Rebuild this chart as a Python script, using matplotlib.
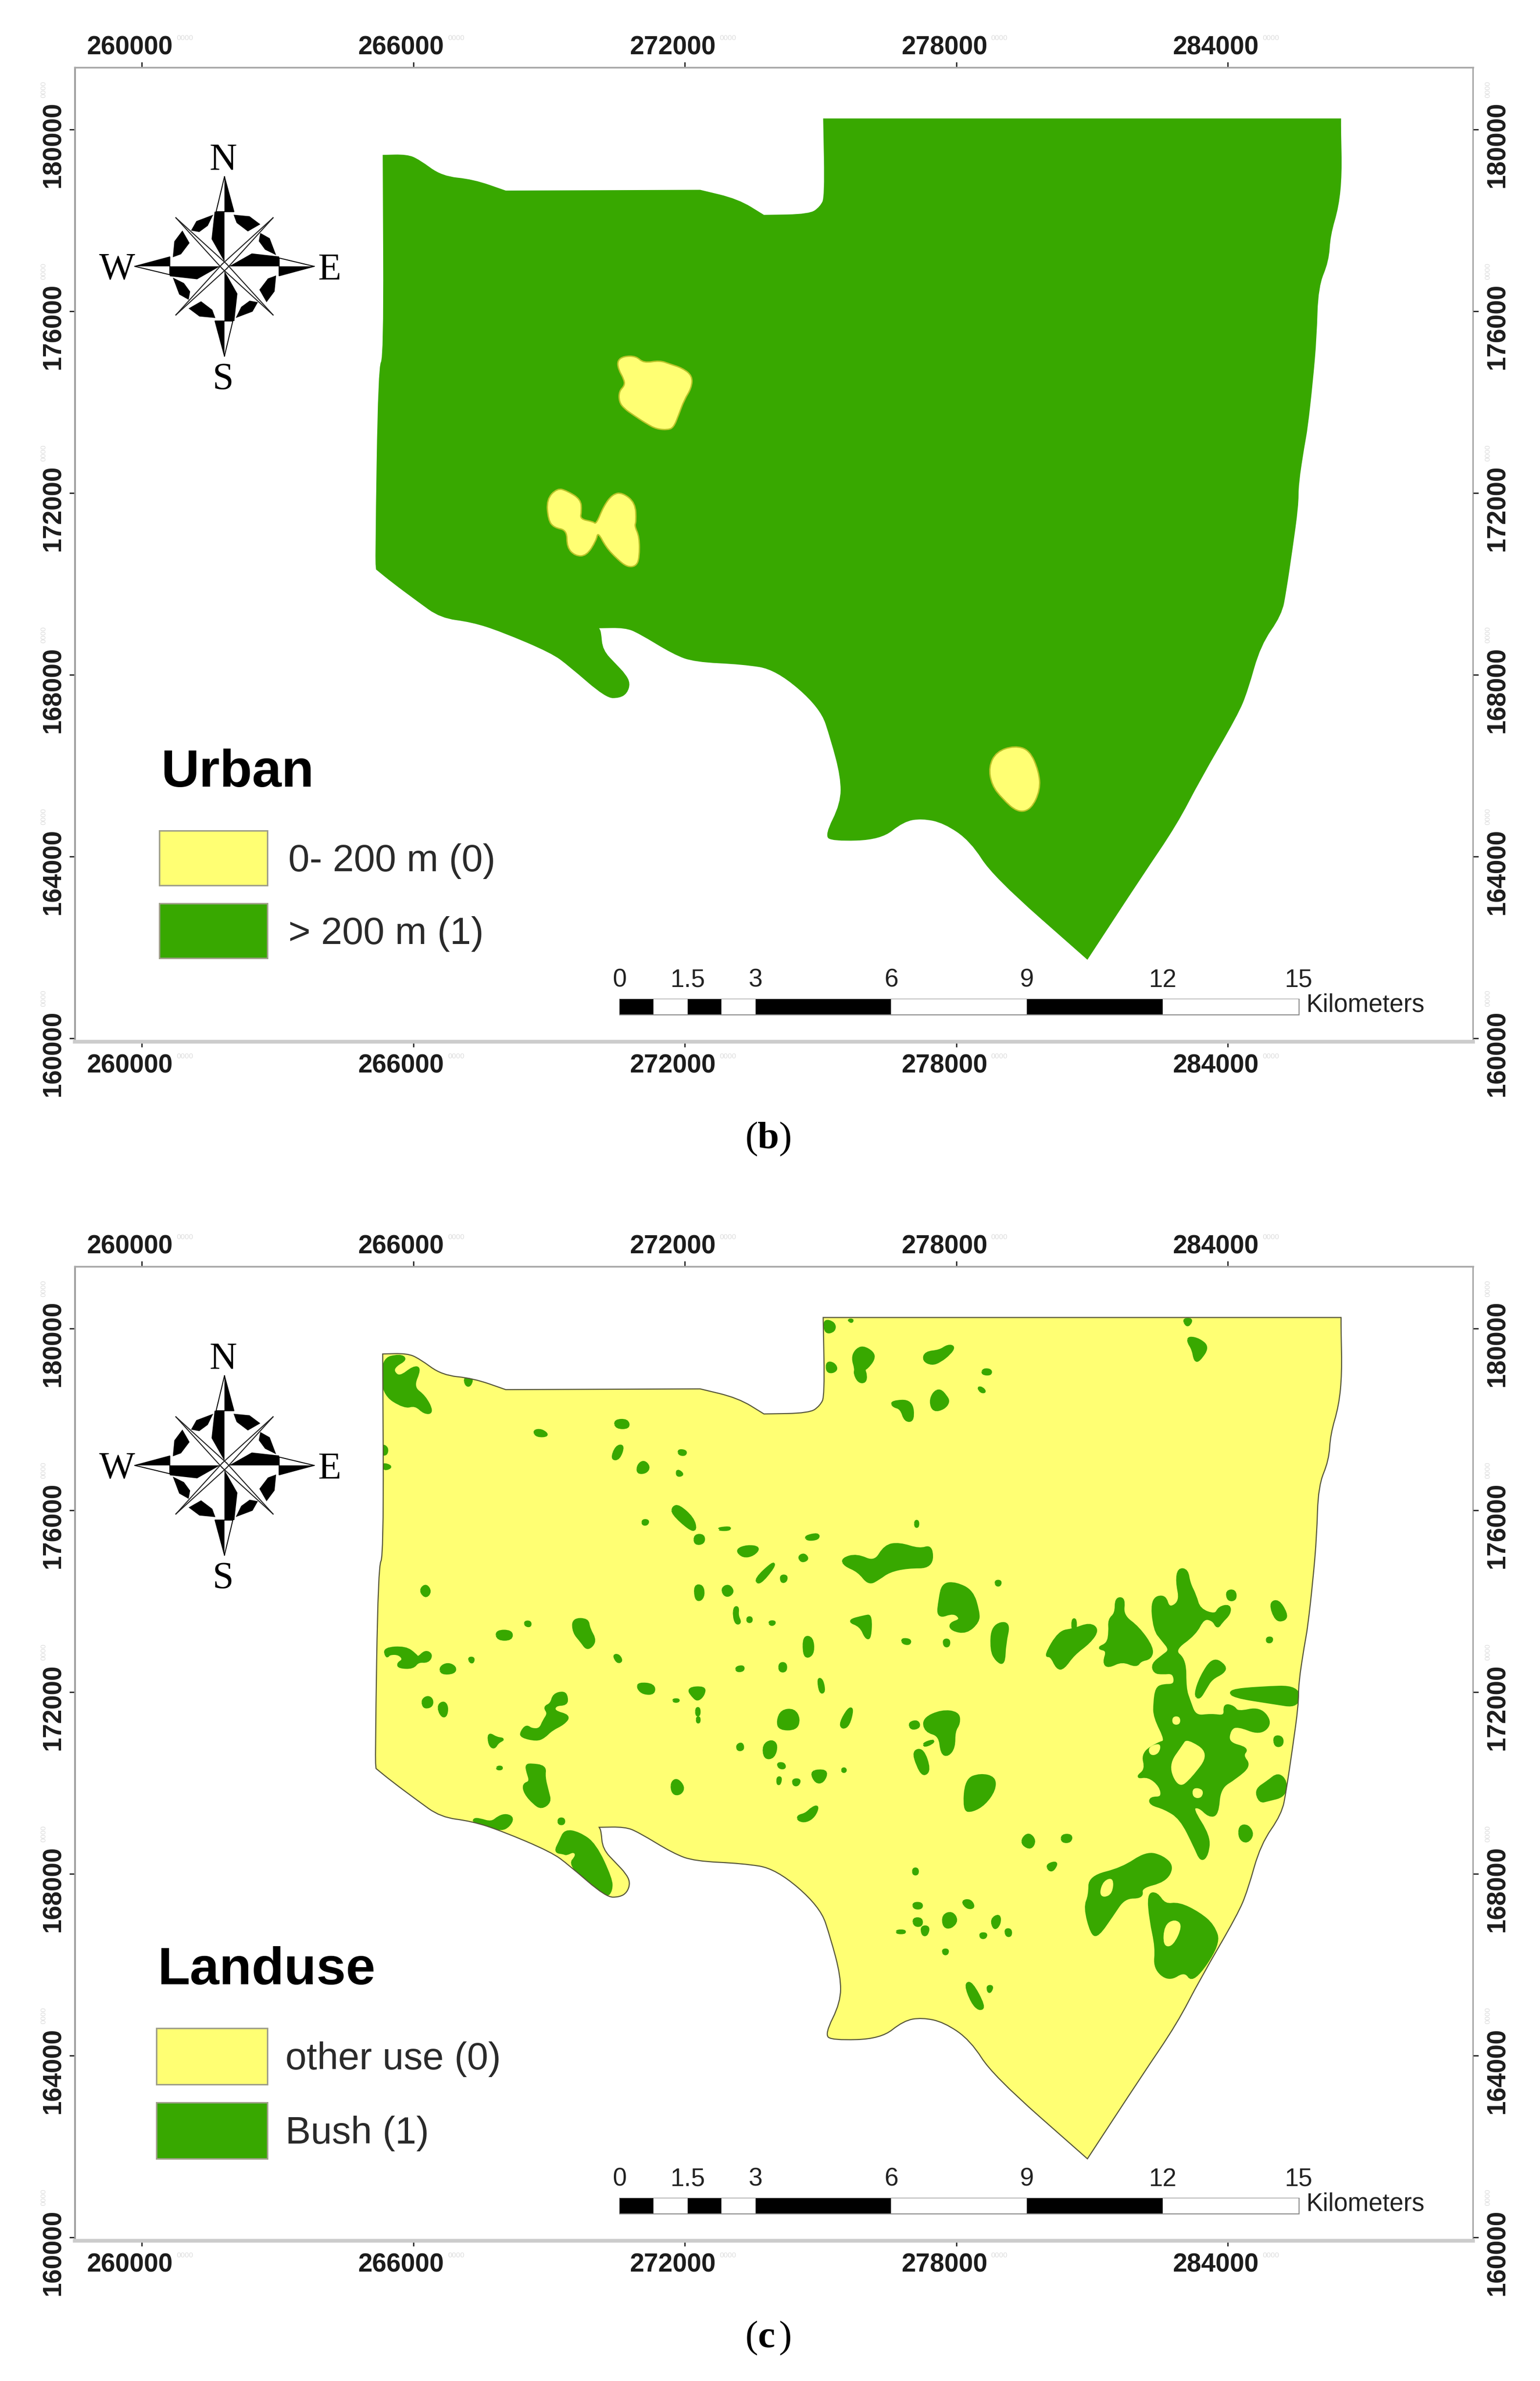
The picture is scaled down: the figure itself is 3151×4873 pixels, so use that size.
import numpy as np
import matplotlib
matplotlib.use('AGG')
import matplotlib.pyplot as plt
from matplotlib.patches import Rectangle, PathPatch
from matplotlib.path import Path

plt.rcParams['font.family'] = ['Liberation Sans', 'DejaVu Sans']

YELLOW = '#FFFF73'
GREEN = '#38A800'

#map grid shown on both panels
x_ticks = [260000, 266000, 272000, 278000, 284000]
y_ticks = [160000, 164000, 168000, 172000, 176000, 180000]
scale_km = [0, 1.5, 3, 6, 9, 12, 15]
scale_parts_km = [0, 0.75, 1.5, 2.25, 3, 6, 9, 12, 15]
scale_labels = ['0', '1.5', '3', '6', '9', '12', '15']

#digitising sheets: x0, y0, x scale, y scale (sheet units to page pixels)
SHEET_PAGE = (0, 0, 1 / 3.1075, 1 / 3.108)
SHEET_TOP = (1500, 2650, 1.206, 2.24)
SHEET_MID = (1500, 2950, 1.206, 1.206)
SHEET_LEFT = (720, 3300, 1.96, 1.96)
SHEET_NW = (700, 2600, 1.568, 1.568)
SHEET_URBAN = (1050, 650, 3.0, 2.85)

#study area boundary, a vertex given twice stays a sharp corner
boundary = [(252, 102), (252, 102), (268, 101.6), (276, 105), (291, 116), (311.5, 118), (333, 125.5), (333, 125.5),
            (461, 125), (461, 125), (486, 131), (503, 141.5), (503, 141.5), (533, 141), (540, 136), (543, 129.6),
            (542, 78), (542, 78), (883, 78), (883, 78), (883, 87), (883.6, 114.5),
            (881.6, 136), (876, 155), (875, 172), (868, 189), (867, 222), (864.5, 251), (861, 282.5), (859, 293),
            (855, 319), (855, 333), (851, 362), (847, 389), (844, 405), (830, 425), (821.6, 455), (815, 471),
            (790, 514), (775, 543), (752, 577), (716, 632), (716, 632), (653.6, 577), (639, 554), (621.5, 542),
            (607, 539), (595, 541), (580, 553), (548, 554), (543, 550), (553.5, 529), (553.5, 511.6), (547, 487),
            (540, 466), (511, 441), (489, 437.5), (457.4, 436), (443.5, 431), (420.5, 417), (411.5, 413.4),
            (394.5, 413.7), (394.5, 413.7), (395.8, 416), (396.8, 428), (405.8, 437.5), (412, 444), (415, 450),
            (413, 456.5), (408, 459.7), (399, 459.7), (374.5, 438.5), (363, 430), (330, 416), (310.6, 409.7),
            (290, 407), (274.4, 395.7), (258, 383.5), (247.6, 375), (247.6, 375), (247, 368), (249, 241.5),
            (252.6, 235.5)]

#urban buffer patches
urban_patches = [
    [(640, 250), (680, 225), (755, 225), (800, 265), (900, 250), (960, 270), (1040, 295), (1100, 340), (1095, 410),
     (1050, 480), (1015, 570), (985, 640), (950, 655), (880, 650), (820, 620), (740, 570), (680, 530), (650, 490),
     (650, 430), (685, 395), (680, 360), (645, 300)],
    [(205, 1060), (270, 995), (330, 1010), (415, 1060), (420, 1130), (410, 1175), (490, 1190), (510, 1205),
     (555, 1100), (610, 1030), (670, 1020), (750, 1080), (755, 1190), (745, 1215), (775, 1280), (775, 1400),
     (755, 1450), (700, 1455), (640, 1410), (570, 1340), (520, 1250), (510, 1300), (450, 1390), (380, 1390),
     (330, 1340), (330, 1240), (250, 1225), (215, 1180)],
]
urban_south = [(651, 505), (656, 495), (668, 491), (678, 494), (684, 508), (685, 520), (679, 533), (670, 535),
               (660, 526), (653, 517)]

#bush patches, one list per digitising sheet
bush_top = [
    [(225, 115), (250, 130), (250, 165), (228, 175)],
    [(285, 115), (295, 115), (292, 125)],
    [(320, 238), (345, 265), (347, 295), (330, 335), (322, 340), (328, 370), (325, 400), (310, 398), (300, 360),
     (303, 340), (295, 290), (303, 255)],
    [(232, 310), (248, 315), (256, 340), (245, 355), (232, 350)],
    [(530, 233), (545, 238), (535, 268), (510, 305), (490, 318), (470, 300), (475, 265), (510, 258)],
    [(618, 342), (636, 345), (635, 365), (615, 362)],
    [(605, 425), (615, 428), (622, 445), (612, 445)],
    [(510, 435), (525, 465), (532, 490), (520, 520), (495, 532), (487, 490), (495, 450)],
    [(392, 490), (440, 485), (445, 575), (425, 578), (415, 520), (395, 510)],
    [(1112, 112), (1132, 112), (1125, 138), (1118, 138)],
    [(1125, 195), (1150, 205), (1172, 240), (1150, 300), (1140, 302), (1135, 250), (1123, 215)],
]

bush_nw = [
    [(130, 285), (185, 272), (205, 285), (170, 305), (162, 325), (185, 345), (230, 310), (250, 315), (225, 375),
     (265, 405), (290, 455), (265, 458), (235, 430), (200, 440), (130, 395)],
    [(393, 345), (418, 345), (410, 370), (398, 368)],
    [(128, 560), (145, 570), (142, 590), (128, 590)],
    [(130, 620), (160, 630), (135, 640)],
    [(615, 515), (640, 512), (662, 530), (625, 532)],
    [(875, 482), (915, 480), (920, 505), (880, 505)],
    [(880, 565), (903, 562), (888, 605), (865, 605)],
    [(1080, 577), (1103, 580), (1100, 592), (1082, 590)],
    [(950, 625), (968, 612), (985, 630), (975, 648), (948, 650)],
    [(1075, 640), (1095, 655), (1075, 660)],
    [(1062, 760), (1080, 755), (1125, 795), (1135, 833), (1115, 830), (1060, 780)],
    [(965, 802), (982, 803), (978, 815), (965, 815)],
    [(1210, 828), (1245, 825), (1240, 832), (1212, 832)],
    [(1132, 850), (1160, 850), (1160, 875), (1132, 878)],
    [(255, 1020), (270, 1010), (283, 1030), (270, 1048), (255, 1035)],
    [(1132, 1012), (1155, 1012), (1160, 1040), (1150, 1058), (1135, 1055)],
    [(1220, 1020), (1240, 1010), (1255, 1030), (1240, 1045), (1225, 1040)],
]

bush_left = [
    [(130, 145), (215, 140), (255, 170), (265, 185), (295, 155), (320, 170), (305, 198), (265, 195), (245, 222),
     (190, 220), (185, 205), (210, 190), (190, 165), (150, 165), (140, 180)],
    [(355, 220), (385, 205), (415, 220), (410, 242), (360, 245)],
    [(470, 183), (488, 183), (485, 200), (475, 198)],
    [(580, 75), (640, 75), (640, 108), (585, 108)],
    [(695, 38), (715, 38), (715, 55), (697, 52)],
    [(887, 28), (945, 28), (950, 65), (978, 115), (945, 150), (920, 115), (890, 80)],
    [(1050, 172), (1070, 172), (1082, 195), (1065, 200)],
    [(1150, 285), (1210, 290), (1212, 325), (1170, 325), (1148, 305)],
    [(1345, 305), (1415, 300), (1410, 330), (1390, 350), (1375, 345)],
    [(1382, 385), (1393, 385), (1393, 412), (1382, 412)],
    [(1385, 422), (1393, 422), (1393, 440), (1385, 440)],
    [(1290, 350), (1310, 350), (1308, 357), (1292, 357)],
    [(285, 350), (305, 338), (322, 350), (320, 375), (295, 382), (285, 370)],
    [(350, 370), (370, 360), (382, 380), (378, 412), (365, 418), (350, 395)],
    [(810, 330), (850, 320), (862, 340), (860, 368), (815, 370), (808, 398), (872, 415), (850, 445), (800, 470),
     (770, 500), (740, 512), (680, 498), (680, 480), (700, 455), (720, 470), (755, 470), (770, 435), (790, 405),
     (772, 380), (800, 368)],
    [(548, 485), (580, 505), (610, 508), (585, 520), (570, 545), (552, 530)],
    [(585, 620), (600, 620), (600, 628), (583, 628)],
    [(700, 615), (715, 610), (775, 618), (770, 660), (785, 720), (795, 760), (760, 785), (730, 765), (695, 725),
     (688, 690), (718, 680), (705, 640)],
    [(1285, 680), (1305, 670), (1330, 700), (1320, 725), (1295, 730), (1283, 710)],
    [(830, 828), (850, 828), (850, 848), (830, 848)],
    [(490, 830), (510, 830), (560, 845), (590, 820), (620, 812), (645, 825), (630, 855), (600, 872), (550, 855),
     (490, 845)],
    [(855, 875), (910, 885), (975, 930), (1040, 1070), (1040, 1115), (1020, 1140), (870, 1015), (905, 975),
     (890, 955), (860, 970), (850, 965), (815, 960), (835, 920)],
]

bush_mid = [
    [(8, 268), (35, 258), (65, 262), (50, 280), (25, 285)],
    [(178, 235), (210, 228), (210, 240), (185, 243)],
    [(162, 285), (175, 278), (185, 290), (170, 297)],
    [(55, 340), (100, 298), (100, 310), (65, 352)],
    [(118, 332), (132, 332), (130, 345), (120, 347)],
    [(270, 290), (305, 280), (350, 300), (375, 258), (410, 252), (460, 268), (490, 258), (490, 310), (430, 310),
     (385, 320), (360, 338), (335, 352), (310, 320), (275, 305)],
    [(518, 352), (550, 350), (590, 370), (605, 420), (605, 445), (575, 472), (540, 465), (535, 450), (565, 440),
     (545, 420), (505, 435), (510, 390)],
    [(648, 345), (660, 345), (658, 355), (650, 355)],
    [(283, 443), (325, 432), (340, 430), (338, 485), (328, 485), (315, 455)],
    [(4, 410), (12, 410), (10, 430), (18, 447), (8, 450), (2, 430)],
    [(36, 435), (45, 435), (45, 445), (36, 445)],
    [(90, 445), (103, 445), (100, 452), (92, 452)],
    [(175, 482), (195, 485), (198, 520), (185, 533), (175, 525)],
    [(417, 488), (437, 490), (435, 500), (420, 498)],
    [(520, 490), (533, 490), (532, 505), (522, 505)],
    [(640, 455), (682, 445), (670, 500), (668, 550), (650, 540), (637, 515)],
    [(8, 558), (25, 555), (25, 565), (10, 567)],
    [(115, 548), (130, 548), (130, 567), (115, 567)],
    [(210, 585), (220, 590), (225, 618), (215, 620)],
    [(120, 665), (150, 662), (163, 685), (155, 710), (115, 710), (110, 690)],
    [(285, 660), (295, 660), (285, 700), (270, 708), (265, 695)],
    [(770, 530), (805, 470), (840, 465), (880, 450), (900, 465), (880, 495), (840, 525), (815, 560), (800, 560),
     (785, 528)],
    [(838, 440), (845, 440), (845, 465), (838, 465)],
    [(945, 388), (965, 388), (960, 430), (1000, 460), (1035, 510), (1030, 535), (1005, 540), (995, 555), (960, 540),
     (925, 557), (915, 545), (925, 515), (900, 510), (925, 500), (930, 470), (928, 440), (945, 425)],
    [(1100, 315), (1120, 318), (1125, 350), (1140, 380), (1150, 415), (1190, 430), (1200, 410), (1225, 405),
     (1225, 425), (1205, 445), (1195, 460), (1185, 440), (1160, 435), (1140, 475), (1085, 515), (1115, 540),
     (1115, 610), (1125, 640), (1140, 680), (1180, 675), (1215, 680), (1212, 650), (1235, 655), (1245, 670),
     (1300, 658), (1328, 695), (1300, 722), (1245, 700), (1225, 710), (1220, 745), (1270, 758), (1255, 775),
     (1275, 800), (1240, 830), (1200, 855), (1195, 920), (1175, 925), (1150, 900), (1130, 905), (1175, 975),
     (1170, 1020), (1155, 1035), (1140, 1000), (1105, 930), (1065, 905), (1030, 895), (1030, 880), (1060, 880),
     (1055, 850), (1025, 825), (995, 830), (1020, 810), (1010, 770), (1050, 745), (1070, 740), (1040, 680),
     (1040, 645), (1045, 610), (1060, 602), (1092, 602), (1088, 570), (1060, 572), (1040, 570), (1035, 550),
     (1060, 530), (1080, 515), (1060, 490), (1040, 465), (1033, 390), (1065, 380), (1075, 415), (1105, 395),
     (1095, 345)],
    [(1140, 625), (1155, 580), (1185, 535), (1215, 555), (1210, 570), (1180, 585), (1165, 610), (1150, 635)],
    [(1225, 615), (1300, 608), (1395, 605), (1395, 655), (1330, 645), (1235, 630)],
    [(1218, 370), (1238, 368), (1240, 390), (1222, 392)],
    [(1325, 400), (1345, 392), (1365, 425), (1362, 440), (1340, 442)],
    [(1318, 485), (1330, 485), (1328, 495), (1318, 495)],
    [(1335, 728), (1355, 730), (1355, 750), (1338, 752)],
    [(1290, 860), (1320, 840), (1345, 820), (1365, 840), (1360, 875), (1320, 885), (1300, 890)],
    [(1250, 950), (1270, 948), (1283, 970), (1268, 990), (1250, 980)],
    [(575, 835), (610, 822), (645, 830), (645, 860), (620, 895), (590, 912), (570, 910)],
    [(435, 695), (455, 690), (460, 705), (440, 710)],
    [(470, 685), (515, 665), (555, 670), (558, 695), (545, 715), (545, 755), (530, 775), (515, 770), (510, 725),
     (475, 715)],
    [(445, 765), (468, 760), (485, 810), (470, 825), (455, 800)],
    [(472, 745), (495, 738), (490, 745), (472, 752)],
    [(715, 980), (730, 968), (745, 985), (735, 1005), (715, 995)],
    [(812, 972), (835, 972), (832, 988), (812, 988)],
    [(775, 1045), (800, 1038), (790, 1058), (780, 1058)],
    [(880, 1075), (960, 1055), (1020, 1015), (1060, 1025), (1085, 1050), (1065, 1085), (1005, 1100), (1010, 1125),
     (965, 1125), (935, 1170), (900, 1220), (885, 1215), (868, 1150), (880, 1120)],
    [(1025, 1118), (1045, 1115), (1065, 1145), (1100, 1140), (1150, 1165), (1185, 1195), (1200, 1240), (1135, 1335),
     (1115, 1305), (1075, 1330), (1040, 1300), (1045, 1250), (1030, 1180)],
    [(210, 812), (232, 815), (222, 840), (205, 842), (193, 818)],
    [(75, 750), (95, 738), (108, 750), (100, 780), (78, 782)],
    [(10, 750), (22, 745), (25, 760), (12, 762)],
    [(110, 795), (125, 795), (128, 806), (115, 806)],
    [(148, 835), (165, 835), (160, 848), (150, 848)],
    [(110, 830), (118, 830), (115, 845), (110, 845)],
    [(160, 925), (180, 920), (195, 905), (210, 900), (200, 925), (180, 938), (162, 935)],
    [(445, 1055), (455, 1055), (455, 1068), (445, 1068)],
    [(445, 1140), (465, 1140), (465, 1152), (447, 1152)],
    [(565, 1135), (585, 1132), (595, 1150), (578, 1152)],
    [(445, 1178), (465, 1178), (465, 1195), (448, 1195)],
    [(465, 1198), (483, 1198), (478, 1218), (468, 1218)],
    [(405, 1208), (423, 1208), (423, 1213), (405, 1213)],
    [(518, 1170), (540, 1162), (553, 1182), (538, 1200), (520, 1198)],
    [(610, 1215), (625, 1215), (622, 1225), (612, 1225)],
    [(637, 1180), (657, 1168), (658, 1190), (645, 1205)],
    [(672, 1205), (685, 1205), (685, 1220), (675, 1220)],
    [(518, 1255), (530, 1255), (528, 1265), (520, 1265)],
    [(573, 1340), (588, 1335), (620, 1395), (608, 1403), (590, 1385)],
    [(628, 1345), (640, 1345), (635, 1358), (630, 1358)],
    [(270, 808), (277, 808), (277, 815), (270, 815)],
    [(450, 197), (456, 197), (456, 210), (450, 210)],
]

#openings left inside the bush patches
bush_holes = [
    [(1085, 680), (1102, 680), (1102, 698), (1085, 698)],
    [(1120, 735), (1175, 770), (1130, 830), (1100, 855), (1075, 800), (1110, 750)],
    [(1135, 855), (1160, 860), (1155, 880), (1135, 878)],
    [(1025, 755), (1055, 745), (1050, 770), (1030, 775)],
    [(915, 1085), (938, 1078), (935, 1115), (915, 1125), (905, 1115)],
    [(1065, 1195), (1090, 1180), (1108, 1195), (1085, 1245), (1062, 1245)],
]

#compass rose, one quarter of it (right, up from centre)
rose_spike = [(0, 59), (6.2, 36), (0, 36)]
rose_spike_edge = [(0, 59), (6.2, 36), (-5.5, 36)]
rose_leaf = [(0, 36), (-6.5, 36), (-8.5, 18), (0, 3)]
rose_ring_a = [(6, 34), (16.5, 33), (23.6, 27.7), (15.4, 23), (8, 28.6)]
rose_ring_b = [(23.6, 22), (29.8, 18.5), (34, 7.4), (26.7, 11), (22.6, 16.6)]


def sheet_to_page(points, sheet):
    x0, y0, sx, sy = sheet
    pts = np.array(points, dtype=float)
    return x0 + pts[:, 0] / sx, y0 + pts[:, 1] / sy


def page_to_map(px, py, page_shift=0):
    east = 260000 + (np.asarray(px) - 290) / 0.0926
    north = 180000 - (np.asarray(py) - page_shift - 265) / 0.093
    return east, north


def to_map(points, sheet, page_shift=0):
    px, py = sheet_to_page(points, sheet)
    return page_to_map(px, py, page_shift)


def here(x, y):
    #a spot given in 1014 px wide page units of the top panel
    return page_to_map(np.asarray(x) * 3.1075, np.asarray(y) * 3.108)


def rounded_patch(e, n, **kw):
    #quadratic curves with the digitised vertices as control points
    pts = np.column_stack([e, n])
    mids = (pts + np.roll(pts, -1, axis=0)) / 2
    verts = [mids[-1]]
    codes = [Path.MOVETO]
    for p, m in zip(pts, mids):
        verts += [p, m]
        codes += [Path.CURVE3, Path.CURVE3]
    return PathPatch(Path(verts, codes), **kw)


def draw_compass(ax):
    cx, cy = 147.8, 175.4
    for k in range(4):
        a = np.pi / 2 * k
        rot = np.array([[np.cos(a), np.sin(a)], [-np.sin(a), np.cos(a)]])
        for shape in [rose_spike, rose_leaf, rose_ring_a, rose_ring_b]:
            p = np.array(shape) @ rot.T
            e, n = here(cx + p[:, 0], cy - p[:, 1])
            ax.fill(e, n, color='black', lw=0, zorder=6)
        p = np.array(rose_spike_edge) @ rot.T
        e, n = here(cx + p[:, 0], cy - p[:, 1])
        ax.plot(np.append(e, e[0]), np.append(n, n[0]), color='black', lw=1.4, zorder=6)
        #thin diagonal arm
        tip = np.array([32.0, 32.0]) @ rot.T
        off = np.array([1.5, -1.5]) @ rot.T
        for s in (-1, 1):
            e, n = here(np.array([cx + s * off[0], cx + tip[0]]), np.array([cy - s * off[1], cy - tip[1]]))
            ax.plot(e, n, color='#222222', lw=1.5, zorder=6)
    for lab, lx, ly in [('N', 147, 105.5), ('S', 147, 250), ('W', 77, 177.5), ('E', 217, 178)]:
        e, n = here(lx, ly)
        ax.text(e, n, lab, family=['Liberation Serif'], fontsize=56, ha='center', va='center', color='black')


def draw_scale(ax):
    start_e, top_n = here(408, 658)
    _, low_n = here(408, 668)
    parts = np.array(scale_parts_km) * 1000
    lefts = start_e + parts[:-1]
    cols = ['black', 'white'] * 4
    ax.bar(lefts, top_n - low_n, width=np.diff(parts), bottom=low_n, align='edge', color=cols, lw=0, zorder=6)
    ax.add_patch(Rectangle((start_e, low_n), parts[-1], top_n - low_n, fill=False, ec='#8a8a8a', lw=2.2, zorder=5))
    _, lab_n = here(408, 645.5)
    for km, lab in zip(scale_km, scale_labels):
        ax.text(start_e + km * 1000, lab_n, lab, fontsize=37, ha='center', va='center', color='#222222')
    e, n = here(860, 662)
    ax.text(e, n, 'Kilometers', fontsize=37, ha='left', va='center', color='#222222')


def draw_legend(ax, title, labels, colors, left, width, tops, height, title_y, text_x):
    e, n = here(left + 1, title_y)
    ax.text(e, n, title, fontsize=78, fontweight='bold', ha='left', va='baseline', color='black')
    for lab, col, top in zip(labels, colors, tops):
        e, n_top = here(left, top)
        e2, n_low = here(left + width, top + height)
        ax.add_patch(Rectangle((e, n_low), e2 - e, n_top - n_low, fc=col, ec='#a0a08a', lw=2.2, zorder=5))
        te, tn = here(text_x, top + height / 2 + 2)
        ax.text(te, tn, lab, fontsize=56, ha='left', va='center', color='#2a2a2a')


def draw_grid(ax):
    ax.set_xticks(x_ticks)
    ax.set_yticks(y_ticks)
    ax.tick_params(direction='out', length=8, width=1.8, top=True, right=True,
                   labelbottom=False, labelleft=False, color='#111111')
    for side, col, w in [('top', '#a8a8a8', 2.5), ('left', '#999999', 2.5), ('right', '#8c8c8c', 1.6),
                         ('bottom', '#cccccc', 5.5)]:
        ax.spines[side].set_color(col)
        ax.spines[side].set_linewidth(w)
    kw = dict(textcoords='offset pixels', fontsize=38, fontweight='bold', color='#1c1c1c', va='center')
    faint = dict(textcoords='offset pixels', fontsize=11, color='#dddddd', va='center', ha='center')
    for t in x_ticks:
        for yy, dy in [(1, 40), (0, -50)]:
            ax.annotate(str(t), xy=(t, yy), xycoords=ax.get_xaxis_transform(), xytext=(-25, dy), ha='center', **kw)
            ax.annotate('0000', xy=(t, yy), xycoords=ax.get_xaxis_transform(), xytext=(88, dy + 20), **faint)
    for t in y_ticks:
        for xx, dx in [(0, -44), (1, 50)]:
            ax.annotate(str(t), xy=(xx, t), xycoords=ax.get_yaxis_transform(), xytext=(dx, -31), ha='center',
                        rotation=90, **kw)
            ax.annotate('0000', xy=(xx, t), xycoords=ax.get_yaxis_transform(), xytext=(dx - 20, 82), rotation=90,
                        **faint)


fig = plt.figure(figsize=(31.51, 48.73), dpi=100)
W, H = 3151.0, 4873.0
PANEL_SHIFT = 2454

#panel b
ax_b = fig.add_axes([153 / W, 1 - 2132 / H, (3014 - 153) / W, (2132 - 138) / H])
#panel c
ax_c = fig.add_axes([153 / W, 1 - (2132 + PANEL_SHIFT) / H, (3014 - 153) / W, (2132 - 138) / H])

for ax in (ax_b, ax_c):
    x_lo, y_lo = page_to_map(153, 2132)
    x_hi, y_hi = page_to_map(3014, 138)
    draw_grid(ax)
    draw_compass(ax)
    draw_scale(ax)
    ax.set_xlim(x_lo, x_hi)
    ax.set_ylim(y_lo, y_hi)

#urban map
e, n = to_map(boundary, SHEET_PAGE)
ax_b.add_patch(rounded_patch(e, n, fc=GREEN, ec='none', lw=0, zorder=2))
for patch in urban_patches:
    e, n = to_map(patch, SHEET_URBAN)
    ax_b.add_patch(rounded_patch(e, n, fc=YELLOW, ec='#b9c42a', lw=2, zorder=3))
e, n = to_map(urban_south, SHEET_PAGE)
ax_b.add_patch(rounded_patch(e, n, fc=YELLOW, ec='#b9c42a', lw=2, zorder=3))
draw_legend(ax_b, 'Urban', ['0- 200 m (0)', '> 200 m (1)'], [YELLOW, GREEN], 105, 71, [547, 595], 36, 518, 190)

#land use map
e, n = to_map(boundary, SHEET_PAGE)
area = rounded_patch(e, n, fc=YELLOW, ec='none', lw=0, zorder=2)
ax_c.add_patch(area)
ax_c.add_patch(rounded_patch(e, n, fc='none', ec='#55553a', lw=1.6, zorder=5))
for sheet, patches in [(SHEET_TOP, bush_top), (SHEET_NW, bush_nw), (SHEET_LEFT, bush_left), (SHEET_MID, bush_mid)]:
    for patch in patches:
        e, n = to_map(patch, sheet, PANEL_SHIFT)
        blob = rounded_patch(e, n, fc=GREEN, ec=GREEN, lw=4, zorder=3)
        ax_c.add_patch(blob)
        blob.set_clip_path(area)
for patch in bush_holes:
    e, n = to_map(patch, SHEET_MID, PANEL_SHIFT)
    ax_c.add_patch(rounded_patch(e, n, fc=YELLOW, ec=YELLOW, lw=1.5, zorder=4))
draw_legend(ax_c, 'Landuse', ['other use (0)', 'Bush (1)'], [YELLOW, GREEN], 103, 73, [546, 595], 37, 517, 188)

#panel captions
for lab, shift in [('b', 0), ('c', PANEL_SHIFT)]:
    y = 1 - (2350 + shift) / H
    fig.text(1524 / W, y, '(', family=['Liberation Serif'], fontsize=57, ha='left', va='baseline')
    fig.text(1550 / W, y, lab, family=['Liberation Serif'], fontsize=57, fontweight='bold', ha='left', va='baseline')
    fig.text(1594 / W, y, ')', family=['Liberation Serif'], fontsize=57, ha='left', va='baseline')

fig.savefig('out.png', dpi=100, facecolor='white')
plt.close(fig)
